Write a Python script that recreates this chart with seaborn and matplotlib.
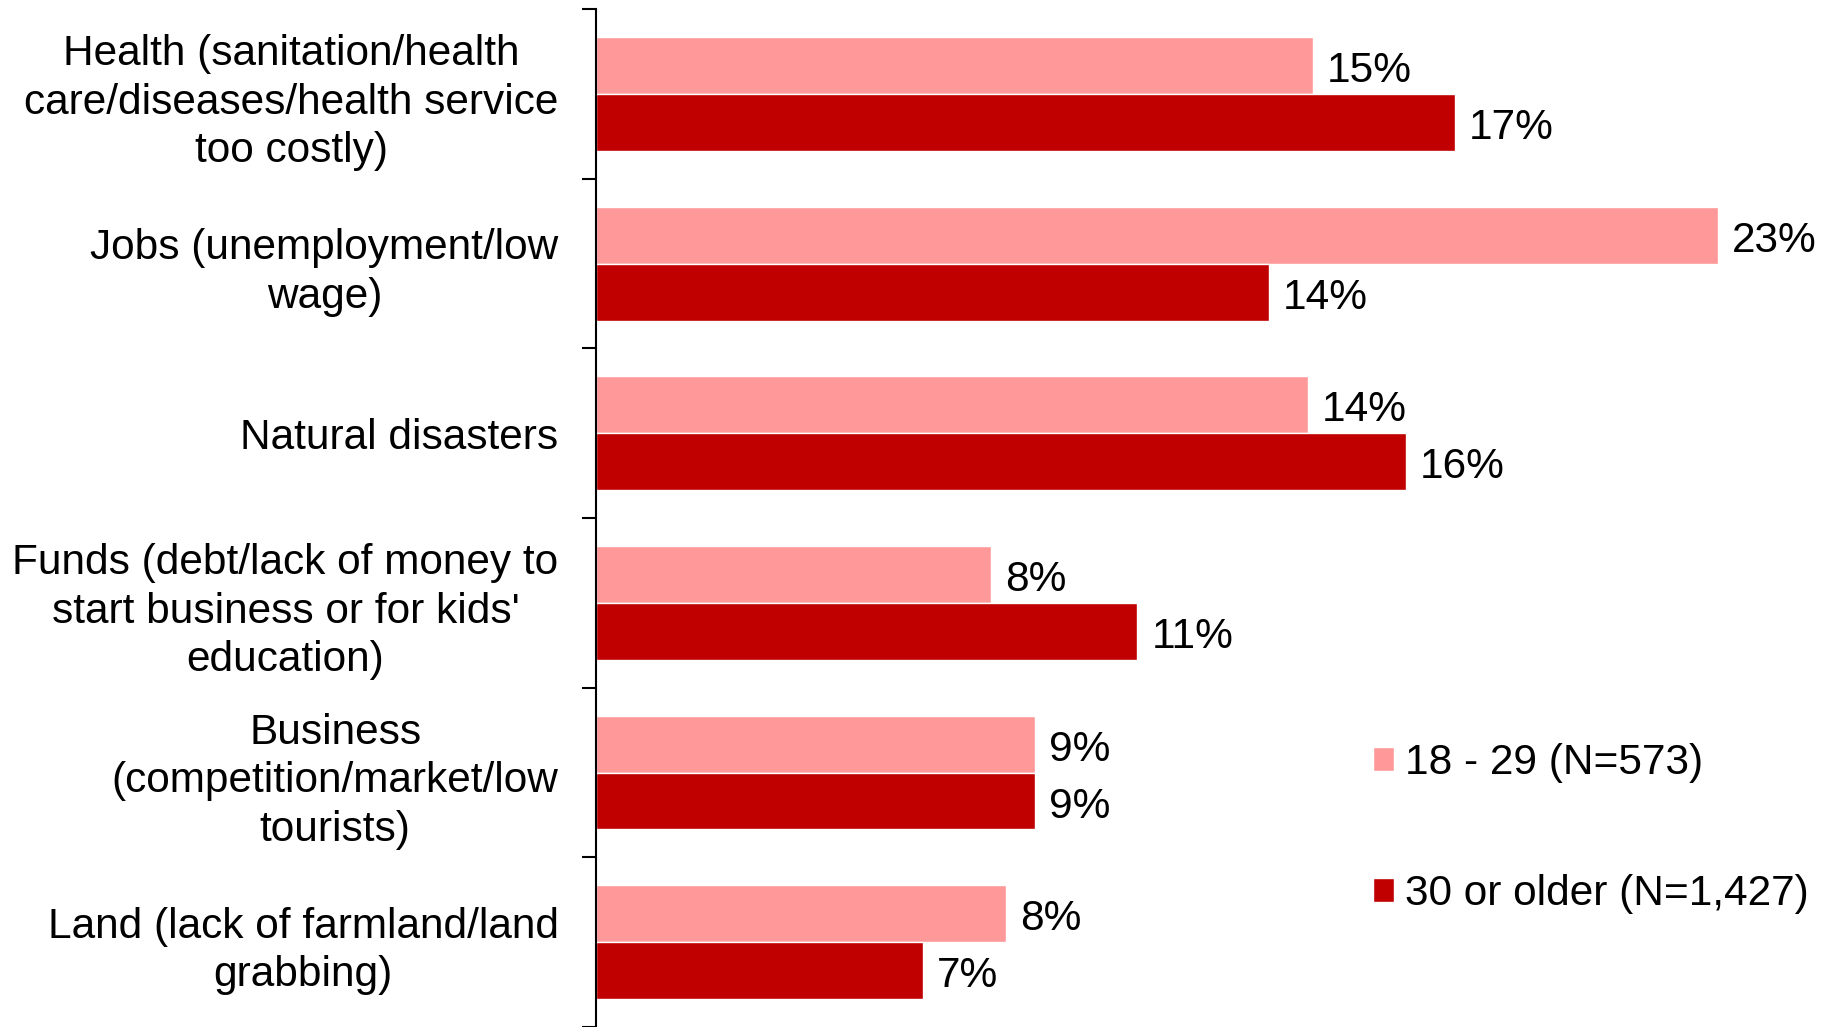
import pandas as pd
import matplotlib.pyplot as plt
import seaborn as sns

# Data
categories = [
    'Health (sanitation/health\ncare/diseases/health service\ntoo costly)',
    'Jobs (unemployment/low\nwage)',
    'Natural disasters',
    "Funds (debt/lack of money to\nstart business or for kids'\neducation)",
    'Business\n(competition/market/low\ntourists)',
    'Land (lack of farmland/land\ngrabbing)',
]
groups = ['18 - 29 (N=573)', '30 or older (N=1,427)']
young = [14.7, 23.0, 14.6, 8.1, 9.0, 8.4]
older = [17.6, 13.8, 16.6, 11.1, 9.0, 6.7]
young_labels = ['15%', '23%', '14%', '8%', '9%', '8%']
older_labels = ['17%', '14%', '16%', '11%', '9%', '7%']
colors = {groups[0]: '#FF9999', groups[1]: '#C00000'}

df = pd.DataFrame({
    'category': categories * 2,
    'group': [groups[0]] * len(categories) + [groups[1]] * len(categories),
    'value': young + older,
})

sns.set_style('white')
plt.rcParams['font.family'] = ['Liberation Sans', 'DejaVu Sans']
plt.rcParams['text.color'] = 'black'
plt.rcParams['ytick.color'] = 'black'
plt.rcParams['ytick.labelcolor'] = 'black'
fs = 30.5

fig = plt.figure(figsize=(18.35, 10.27), dpi=100)
ax = fig.add_axes([596 / 1835, 0.0, 1 - 596 / 1835, 0.991])

sns.barplot(
    data=df, x='value', y='category', hue='group', order=categories,
    hue_order=groups, palette=colors, orient='h', width=0.67,
    saturation=1, ax=ax,
)

for cont, labs in zip(ax.containers, [young_labels, older_labels]):
    anns = ax.bar_label(cont, labels=labs, padding=10, fontsize=fs, color='black')
    # labels sit a little below the bar centre in the original
    for a in anns:
        a.xyann = (10, -4)

ax.set_xlim(0, 25.4)
ax.set_ylim(len(categories) - 0.5, -0.5)
ax.set_xlabel('')
ax.set_ylabel('')
ax.set_xticks([])

# labels centred on categories, ticks at the boundaries
ax.tick_params(axis='y', which='major', length=0, pad=27, labelsize=fs)
for lab in ax.get_yticklabels():
    lab.set_multialignment('center')
    lab.set_linespacing(1.27)
    lab.set_color('black')
ax.set_yticks([i - 0.5 for i in range(len(categories) + 1)], minor=True)
ax.tick_params(axis='y', which='minor', left=True, length=10, width=1.5, color='black')

for side in ['top', 'right', 'bottom']:
    ax.spines[side].set_visible(False)
ax.spines['left'].set_color('black')
ax.spines['left'].set_linewidth(1.5)

handles, labels = ax.get_legend_handles_labels()
ax.legend(
    handles, labels, frameon=False, fontsize=fs,
    loc='upper left', bbox_to_anchor=(1335 / 1835, 1 - 705 / 1027),
    bbox_transform=fig.transFigure,
    handlelength=0.5, handleheight=0.5, handletextpad=0.25, labelspacing=2.15,
    labelcolor='black',
)

fig.savefig('out.png', dpi=100)
